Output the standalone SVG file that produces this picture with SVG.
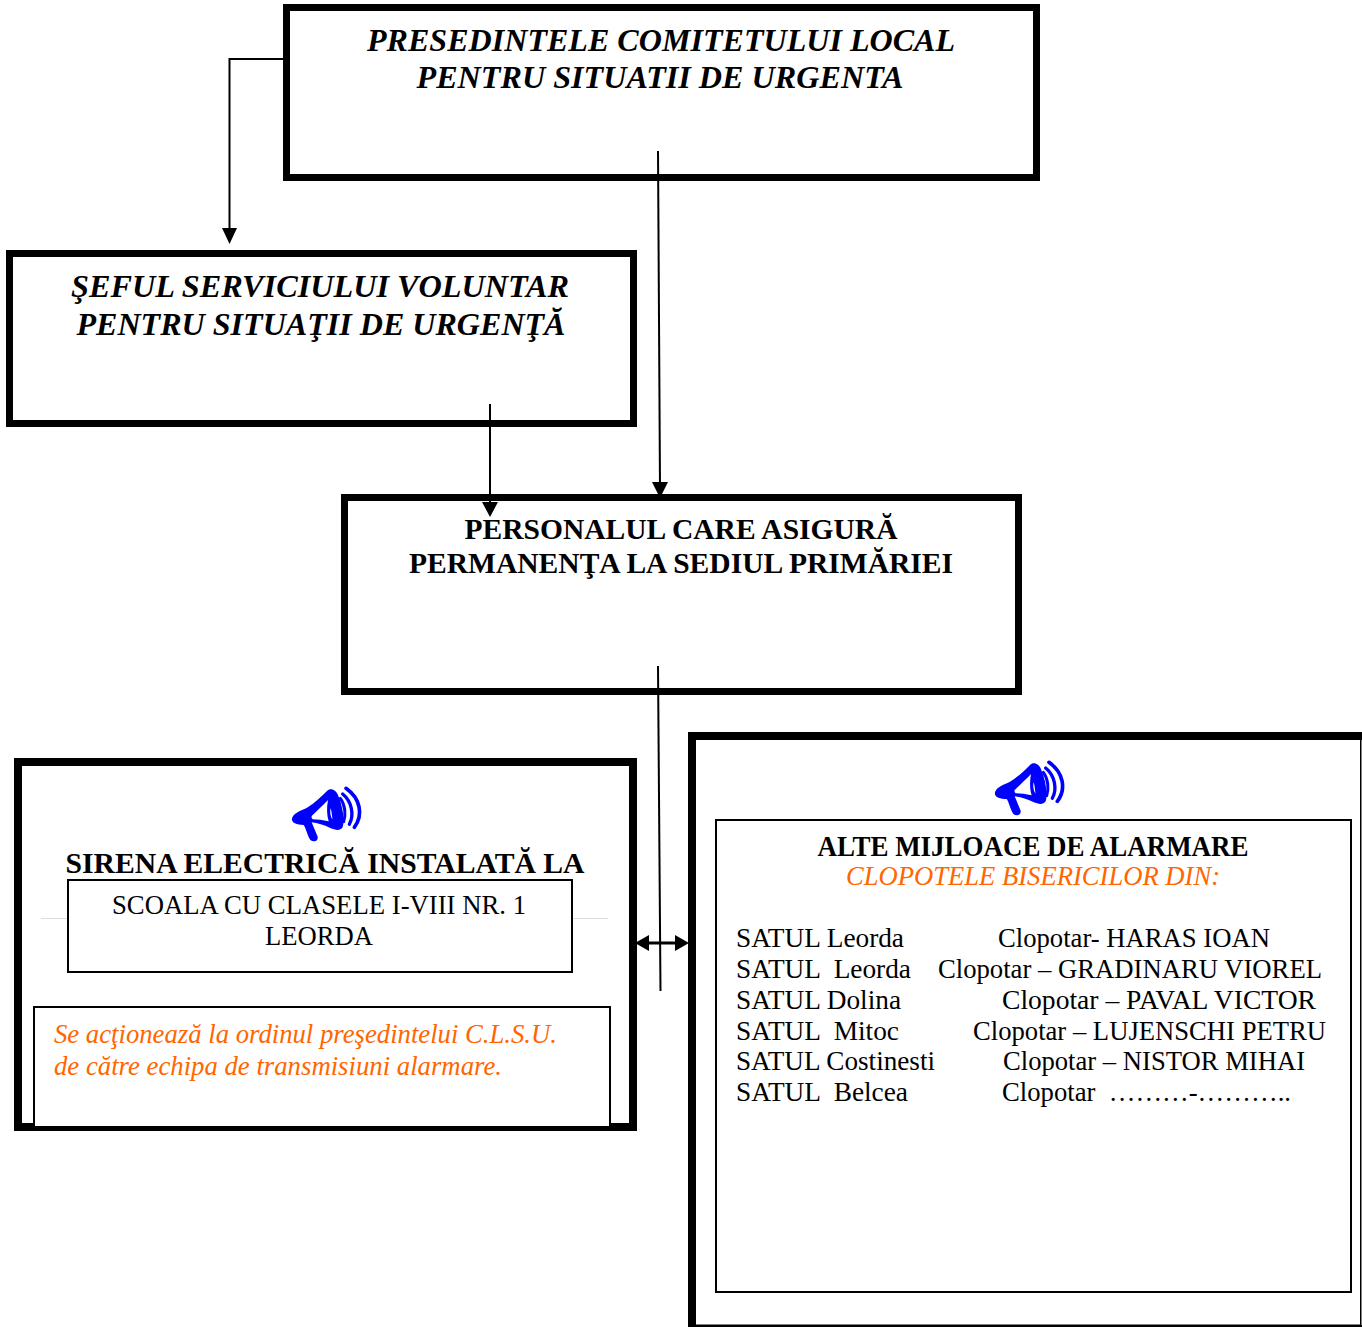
<svg xmlns="http://www.w3.org/2000/svg" width="1362" height="1327" viewBox="0 0 1362 1327">
<style>
text{font-family:"Liberation Serif","Times New Roman",serif;fill:#000;white-space:pre}
.h{font-size:32px;font-weight:bold;font-style:italic;text-anchor:middle}
.b{font-size:29px;font-weight:bold;text-anchor:middle}
.t{font-size:26.500px}
.m{text-anchor:middle}
.o{fill:#ff6600;font-style:italic}
.box{fill:#fff;stroke:#000;stroke-width:7}
.box8{fill:#fff;stroke:#000;stroke-width:8}
.thin{fill:#fff;stroke:#000;stroke-width:2}
.c{fill:none;stroke:#000;stroke-width:2}
.mega{fill:#0000ff}
.wave{fill:none;stroke:#0000ff;stroke-linecap:round}
</style>
<defs>
<g id="horn" transform="scale(0.3333) translate(-35 -30)">
<path class="mega" d="M35 115C40 98 60 93 80 83C105 68 125 48 140 33C150 23 167 28 174 48C187 80 194 120 187 142C178 154 165 150 150 144C130 134 112 130 94 127L112 170C114 184 100 187 90 180C80 165 78 147 70 135C50 134 32 130 35 115Z"/>
<path fill="#fff" d="M94 108C110 92 130 74 143 60C139 82 139 105 145 124C128 120 112 118 97 118Q92 114 94 108Z"/>
<path fill="#fff" d="M151 85C155 97 155 112 157 118C151 113 148 97 151 85Z"/>
<path class="wave" stroke-width="9" d="M180 55C195 75 197 105 190 125"/>
<path class="wave" stroke-width="10" d="M187 42C215 65 222 105 207 133"/>
<path class="wave" stroke-width="11" d="M197 25C240 55 250 105 222 142"/>
</g>
</defs>
<g id="node-presedinte">
<rect class="box" x="286.500" y="7.500" width="750" height="170"/>
<text class="h" x="661" y="51" textLength="588" lengthAdjust="spacingAndGlyphs">PRESEDINTELE COMITETULUI LOCAL</text>
<text class="h" x="660" y="88" textLength="487" lengthAdjust="spacingAndGlyphs">PENTRU SITUATII DE URGENTA</text>
</g>
<g id="node-sef">
<rect class="box" x="9.500" y="253.500" width="624" height="170"/>
<text class="h" x="320" y="297" textLength="498" lengthAdjust="spacingAndGlyphs">ŞEFUL SERVICIULUI VOLUNTAR</text>
<text class="h" x="321" y="335" textLength="489" lengthAdjust="spacingAndGlyphs">PENTRU SITUAŢII DE URGENŢĂ</text>
</g>
<g id="node-personal">
<rect class="box" x="344.500" y="497.500" width="674" height="194"/>
<text class="b" x="681" y="538.500" textLength="433" lengthAdjust="spacingAndGlyphs">PERSONALUL CARE ASIGURĂ</text>
<text class="b" x="681" y="572.500" textLength="544" lengthAdjust="spacingAndGlyphs">PERMANENŢA LA SEDIUL PRIMĂRIEI</text>
</g>
<g id="node-sirena">
<rect class="box8" x="18" y="762" width="615" height="365"/>
<use href="#horn" x="292" y="790"/>
<text class="b" x="325" y="872.500" textLength="519" lengthAdjust="spacingAndGlyphs">SIRENA ELECTRICĂ INSTALATĂ LA</text>
<path d="M41 918.500H608" stroke="#ddd" stroke-width="1" fill="none"/>
<rect class="thin" x="68" y="880" width="504" height="92"/>
<text class="t m" x="319" y="914" textLength="414" lengthAdjust="spacingAndGlyphs">SCOALA CU CLASELE I-VIII NR. 1</text>
<text class="t m" x="319" y="945" textLength="108" lengthAdjust="spacingAndGlyphs">LEORDA</text>
<rect class="thin" x="34" y="1007" width="576" height="120"/>
<text class="t o" x="54" y="1042.500" textLength="503" lengthAdjust="spacingAndGlyphs">Se acţionează la ordinul preşedintelui C.L.S.U.</text>
<text class="t o" x="54" y="1074.500" textLength="448" lengthAdjust="spacingAndGlyphs">de către echipa de transmisiuni alarmare.</text>
</g>
<g id="node-alte">
<path fill-rule="evenodd" d="M688 732H1362V740H1361.500V1325H1362V1327H688ZM696 740V1324.500H1360V740Z"/>
<use href="#horn" x="995" y="764"/>
<rect class="thin" x="716" y="820" width="635" height="472"/>
<text class="b" x="1033" y="855.500" textLength="431" lengthAdjust="spacingAndGlyphs">ALTE MIJLOACE DE ALARMARE</text>
<text class="t o m" x="1033" y="885" textLength="374" lengthAdjust="spacingAndGlyphs">CLOPOTELE BISERICILOR DIN:</text>
<text class="t" x="736" y="946.500" textLength="168" lengthAdjust="spacingAndGlyphs">SATUL Leorda</text>
<text class="t" x="998" y="946.500" textLength="272" lengthAdjust="spacingAndGlyphs">Clopotar- HARAS IOAN</text>
<text class="t" x="736" y="977.500" textLength="175" lengthAdjust="spacingAndGlyphs">SATUL  Leorda</text>
<text class="t" x="938" y="977.500" textLength="384" lengthAdjust="spacingAndGlyphs">Clopotar – GRADINARU VIOREL</text>
<text class="t" x="736" y="1008.500" textLength="165" lengthAdjust="spacingAndGlyphs">SATUL Dolina</text>
<text class="t" x="1002" y="1008.500" textLength="314" lengthAdjust="spacingAndGlyphs">Clopotar – PAVAL VICTOR</text>
<text class="t" x="736" y="1039.500" textLength="163" lengthAdjust="spacingAndGlyphs">SATUL  Mitoc</text>
<text class="t" x="973" y="1039.500" textLength="353" lengthAdjust="spacingAndGlyphs">Clopotar – LUJENSCHI PETRU</text>
<text class="t" x="736" y="1069.500" textLength="199" lengthAdjust="spacingAndGlyphs">SATUL Costinesti</text>
<text class="t" x="1003" y="1069.500" textLength="302" lengthAdjust="spacingAndGlyphs">Clopotar – NISTOR MIHAI</text>
<text class="t" x="736" y="1100.500" textLength="172" lengthAdjust="spacingAndGlyphs">SATUL  Belcea</text>
<text class="t" x="1002" y="1100.500" textLength="289" lengthAdjust="spacingAndGlyphs">Clopotar  ………-………..</text>
</g>
<g id="connectors">
<path class="c" d="M285 59H229.500V232"/>
<path d="M222 228H237L229.500 244Z"/>
<path class="c" d="M658 151L660 486"/>
<path d="M652 482H668L660 498Z"/>
<path class="c" d="M490 404V505"/>
<path d="M482 502H498L490 517Z"/>
<path class="c" d="M658 666L660.500 991"/>
<path d="M640 941.500H684V944.500H640Z"/>
<path d="M635 943L649 935V951Z"/>
<path d="M689 943L675 935V951Z"/>
</g>
</svg>
